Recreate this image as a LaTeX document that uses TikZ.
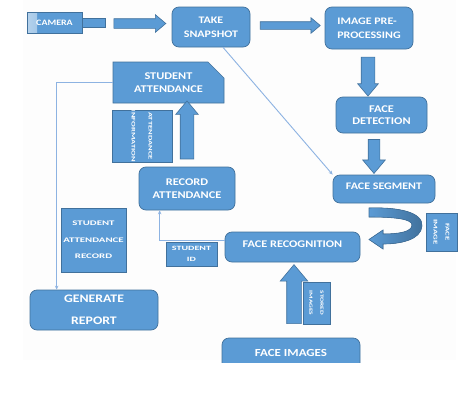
\documentclass[tikz,border=0pt]{standalone}
\usepackage{fontspec}
\setmainfont{Carlito}
\newfontfamily\lbl[FakeStretch=1.2]{Carlito}
\newfontfamily\tagf[FakeStretch=1.55]{Carlito}
\usetikzlibrary{shapes.arrows,shapes.misc,arrows.meta,calc}
\definecolor{boxblue}{HTML}{5B9BD5}
\definecolor{boxedge}{HTML}{41719C}
\definecolor{lineblue}{HTML}{8DB3E2}
\definecolor{bgray}{HTML}{FDFDFD}
\newcommand{\fs}[2]{\lbl\bfseries\fontsize{#1}{#2}\selectfont}
\newcommand{\ft}[2]{\tagf\bfseries\fontsize{#1}{#2}\selectfont}
\begin{document}
\begin{tikzpicture}[x=1pt,y=-1pt,
  box/.style={draw=boxedge, fill=boxblue, line width=0.7pt, rounded corners=7pt,
    inner sep=0pt, text=white, align=center, font=\fs{10.3}{13}},
  tag/.style={draw=boxedge, fill=boxblue, line width=0.6pt, inner sep=0pt,
    text=white, align=center, font=\ft{6}{11}},
  barrow/.style={shape=single arrow, draw=boxedge, fill=boxblue, line width=0.6pt,
    inner xsep=0pt, single arrow tip angle=80},
  thin/.style={draw=lineblue, line width=0.9pt, -{Stealth[length=4pt,width=3.5pt]}}]
\useasboundingbox (0,0) rectangle (469,402);
\fill[bgray] (23,0) rectangle (456,360);

% boxes
\node[box, rounded corners=0pt, minimum width=55, minimum height=21, font=\fs{8.3}{9},
  path picture={\shade[left color=boxblue!45!white, right color=boxblue]
    (path picture bounding box.south west) rectangle ([xshift=10pt]path picture bounding box.north west);}]
  (cam) at (54.5,22.5) {CAMERA};
\node[box, rounded corners=0pt, minimum width=23, minimum height=9, anchor=west] (cambar) at (cam.east) {};
\node[box, minimum width=78, minimum height=40, font=\fs{10}{14}] (snap) at (211,27) {TAKE\\SNAPSHOT};
\node[box, minimum width=88, minimum height=42, align=left, font=\fs{10}{14}] (pre) at (369,28) {IMAGE PRE-\\PROCESSING};
\node[box, minimum width=91, minimum height=36, font=\fs{10.3}{12}] (det) at (381.5,115) {FACE\\DETECTION};
\node[box, minimum width=102, minimum height=28, text depth=6pt, font=\fs{10}{12}] (seg) at (384,189) {FACE SEGMENT};
\node[box, minimum width=135, minimum height=30, text depth=6pt, font=\fs{10.2}{12}] (fr) at (292.5,247) {FACE RECOGNITION};
\begin{scope}
\clip (200,300) rectangle (380,362);
\node[box, minimum width=138, minimum height=40, text depth=11pt, font=\fs{10.8}{12}] (fi) at (291,358) {FACE IMAGES};
\end{scope}
\node[box, minimum width=96, minimum height=43] (ra) at (187,188.5) {RECORD\\ATTENDANCE};
\node[box, shape=chamfered rectangle, chamfered rectangle corners=north east,
  chamfered rectangle xsep=8pt, chamfered rectangle ysep=8pt, rounded corners=0pt,
  minimum width=111, minimum height=41] (sa) at (168.5,82.5) {STUDENT\\ATTENDANCE};
\node[box, minimum width=128, minimum height=40, font=\fs{11.5}{22}] (gen) at (94,310) {GENERATE\\REPORT};

% small tags
\node[tag, rotate=-90, minimum width=52, minimum height=60, font=\ft{5.5}{17}] (ai) at (142,136) {ATTENDANCE\\INFORMATION};
\node[tag, minimum width=65, minimum height=64, font=\ft{7}{16.5}] (sar) at (93.5,240) {STUDENT\\ATTENDANCE\\RECORD};
\node[tag, minimum width=51, minimum height=24, font=\ft{6.5}{11}] (sid) at (191.5,254) {STUDENT\\ID};
\node[tag, rotate=-90, minimum width=38, minimum height=31, font=\ft{5.7}{12}] (fim) at (441.5,232) {FACE\\IMAGE};
\node[tag, rotate=-90, minimum width=42, minimum height=27, font=\ft{4.8}{11}] (st) at (316.5,303) {STORED\\IMAGES};

% block arrows
\node[barrow, minimum height=52, inner ysep=4.5pt, single arrow head extend=4pt] at (137,23.5) {};
\node[barrow, minimum height=60, inner ysep=3.5pt, single arrow head extend=4pt] at (288,25.5) {};
\node[barrow, minimum height=39, inner ysep=6.5pt, single arrow head extend=3.5pt, rotate=-90] at (368,72.5) {};
\node[barrow, minimum height=34, inner ysep=5.5pt, single arrow head extend=5.5pt, rotate=-90] at (374,153) {};
\node[barrow, minimum height=58, inner ysep=6.5pt, single arrow head extend=4.5pt, rotate=90] at (187,134) {};
\node[barrow, minimum height=59, inner ysep=7pt, single arrow head extend=6.5pt, rotate=90] at (294,298.5) {};

% curved arrow from face segment to face recognition
\filldraw[draw=boxedge, line width=0.6pt, left color=boxblue, right color=boxedge]
  (369,208) .. controls (398,207) and (423,212) .. (422,226)
  .. controls (421,240) and (400,244) .. (383,244)
  -- (383,249) -- (369,239.5) -- (383,230) -- (383,234)
  .. controls (398,234) and (412,232) .. (412,225)
  .. controls (412,219) and (395,217) .. (369,217) -- cycle;

% thin connectors
\draw[thin] ($(snap.south)+(12,0)$) -- (seg.north west);
\draw[thin] (sa.west) -| ($(gen.north west)+(27,0)$);
\draw[thin] ($(fr.west)+(0,-7)$) -| ($(ra.south west)+(21,0)$);
\end{tikzpicture}
\end{document}
